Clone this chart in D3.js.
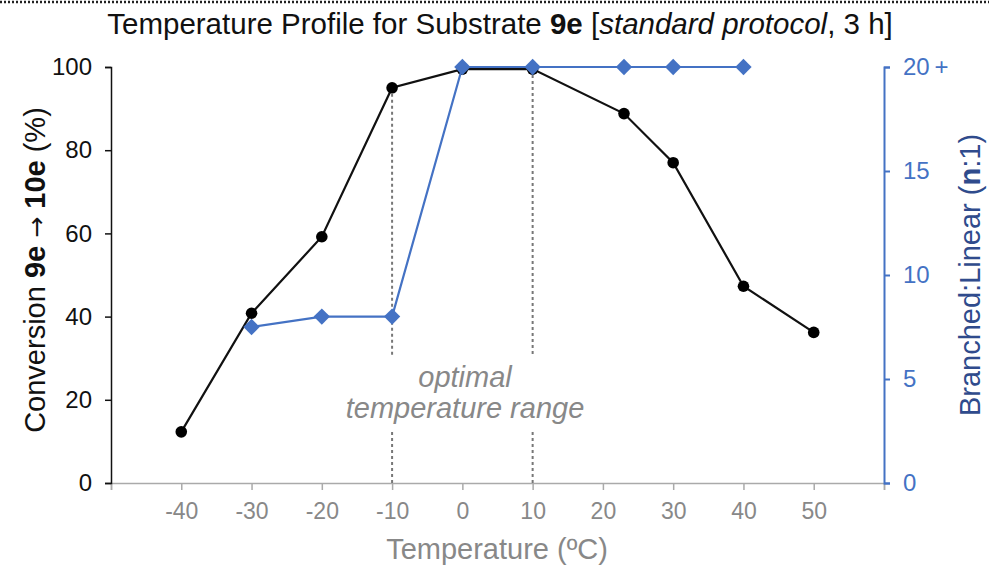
<!DOCTYPE html>
<head>
  <meta charset="utf-8">
  <script src="https://cdn.jsdelivr.net/npm/d3@7/dist/d3.min.js"></script>
  <style>
    body { font-family: "Liberation Sans", Arial, sans-serif; margin:0; background:#fff; }
    svg text { font-family: "Liberation Sans", Arial, sans-serif; }
  </style>
</head>
<body>
  <script>
    // conversion (%) vs temperature
    var convTemps = [-40, -30, -20, -10, 0, 10, 23, 30, 40, 50];
    var convValues = [12.3, 40.8, 59.2, 95, 99.5, 99.5, 88.8, 77, 47.3, 36.2];
    // branched:linear ratio vs temperature
    var ratioTemps = [-30, -20, -10, 0, 10, 23, 30, 40];
    var ratioValues = [7.5, 8, 8, 20, 20, 20, 20, 20];
    var xTicks = [-40, -30, -20, -10, 0, 10, 20, 30, 40, 50];
    var leftTicks = [0, 20, 40, 60, 80, 100];
    var rightTicks = [0, 5, 10, 15, 20];
    var rangeBounds = [-10, 10];

    var width = 989, height = 565;
    var blue = "#4472c4";

    var svg = d3.select("body").append("svg")
      .attr("width", width).attr("height", height);

    // dotted top border
    svg.append("line")
      .attr("x1", 0).attr("x2", width).attr("y1", 2).attr("y2", 2)
      .attr("stroke", "#222").attr("stroke-width", 2.5).attr("stroke-dasharray", "2,2");

    var x = d3.scaleLinear().domain([-50, 60]).range([111, 884]);
    var yL = d3.scaleLinear().domain([0, 100]).range([483, 67]);
    var yR = d3.scaleLinear().domain([0, 20]).range([483, 67]);

    // title
    var title = svg.append("text").attr("x", 500).attr("y", 34)
      .attr("text-anchor", "middle").attr("font-size", 29.5).attr("fill", "#111");
    title.append("tspan").text("Temperature Profile for Substrate ");
    title.append("tspan").attr("font-weight", "bold").text("9e");
    title.append("tspan").text(" [");
    title.append("tspan").attr("font-style", "italic").text("standard protocol");
    title.append("tspan").text(", 3 h]");

    // x axis
    var xAxis = svg.append("g").attr("transform", "translate(0,483)")
      .call(d3.axisBottom(x).tickValues([-50].concat(xTicks, [60])).tickSize(7)
        .tickFormat(function(d) { return xTicks.indexOf(d) >= 0 ? d : ""; }));
    xAxis.select(".domain").attr("stroke", "#aaa").attr("stroke-width", 1.5);
    xAxis.selectAll(".tick line").attr("stroke", "#aaa").attr("stroke-width", 1.5);
    xAxis.selectAll(".tick text").attr("fill", "#888").attr("font-size", 23).attr("dy", "1.15em");

    // left axis
    var lAxis = svg.append("g").attr("transform", "translate(111,0)")
      .call(d3.axisLeft(yL).tickValues(leftTicks).tickSize(6).tickPadding(13));
    lAxis.select(".domain").attr("stroke", "#111").attr("stroke-width", 1.5);
    lAxis.selectAll(".tick line").attr("stroke", "#111").attr("stroke-width", 1.5);
    lAxis.selectAll(".tick text").attr("fill", "#111").attr("font-size", 24);

    // right axis
    var rAxis = svg.append("g").attr("transform", "translate(884,0)")
      .call(d3.axisRight(yR).tickValues(rightTicks).tickSize(6).tickPadding(13)
        .tickFormat(function(d) { return d === 20 ? "20\u2009+" : d; }));
    rAxis.select(".domain").attr("stroke", blue).attr("stroke-width", 2);
    rAxis.selectAll(".tick line").attr("stroke", blue).attr("stroke-width", 2);
    rAxis.selectAll(".tick text").attr("fill", blue).attr("font-size", 24);

    // axis titles
    var lt = svg.append("text").attr("transform", "translate(45,270) rotate(-90)")
      .attr("text-anchor", "middle").attr("font-size", 29).attr("fill", "#111");
    lt.append("tspan").text("Conversion ");
    lt.append("tspan").attr("font-weight", "bold").text("9e");
    lt.append("tspan").text(" ");
    lt.append("tspan").style("font-family", "'DejaVu Sans', sans-serif").attr("font-size", 25).text("\u2192");
    lt.append("tspan").text(" ");
    lt.append("tspan").attr("font-weight", "bold").text("10e");
    lt.append("tspan").text(" (%)");

    var rt = svg.append("text").attr("transform", "translate(980,275) rotate(-90)")
      .attr("text-anchor", "middle").attr("font-size", 29).attr("fill", "#2f4b8c");
    rt.append("tspan").text("Branched:Linear (");
    rt.append("tspan").attr("font-weight", "bold").text("n");
    rt.append("tspan").text(":1)");

    svg.append("text").attr("x", 497).attr("y", 559)
      .attr("text-anchor", "middle").attr("font-size", 29).attr("fill", "#888")
      .text("Temperature (\u00baC)");

    // optimal range markers
    rangeBounds.forEach(function(t) {
      var top = yL(convValues[convTemps.indexOf(t)]);
      [[top, 356], [432, 483]].forEach(function(seg) {
        svg.append("line").attr("x1", x(t)).attr("x2", x(t))
          .attr("y1", seg[0]).attr("y2", seg[1])
          .attr("stroke", "#777").attr("stroke-width", 2).attr("stroke-dasharray", "3,3");
      });
    });
    var opt = svg.append("text").attr("text-anchor", "middle").attr("font-size", 29)
      .attr("font-style", "italic").attr("fill", "#888");
    opt.append("tspan").attr("x", 465).attr("y", 387).text("optimal");
    opt.append("tspan").attr("x", 465).attr("y", 418).text("temperature range");

    // conversion series
    var conv = convTemps.map(function(t, i) { return [t, convValues[i]]; });
    svg.append("path").datum(conv)
      .attr("fill", "none").attr("stroke", "#111").attr("stroke-width", 2.2)
      .attr("d", d3.line().x(function(d) { return x(d[0]); }).y(function(d) { return yL(d[1]); }));
    svg.selectAll(".cpt").data(conv).enter().append("circle")
      .attr("cx", function(d) { return x(d[0]); }).attr("cy", function(d) { return yL(d[1]); })
      .attr("r", 5.8).attr("fill", "#000");

    // ratio series
    var ratio = ratioTemps.map(function(t, i) { return [t, ratioValues[i]]; });
    svg.append("path").datum(ratio)
      .attr("fill", "none").attr("stroke", blue).attr("stroke-width", 2.2)
      .attr("d", d3.line().x(function(d) { return x(d[0]); }).y(function(d) { return yR(d[1]); }));
    svg.selectAll(".rpt").data(ratio).enter().append("path")
      .attr("transform", function(d) { return "translate(" + x(d[0]) + "," + yR(d[1]) + ")"; })
      .attr("d", d3.symbol().type(d3.symbolDiamond2).size(170))
      .attr("fill", blue);
  </script>
</body>
